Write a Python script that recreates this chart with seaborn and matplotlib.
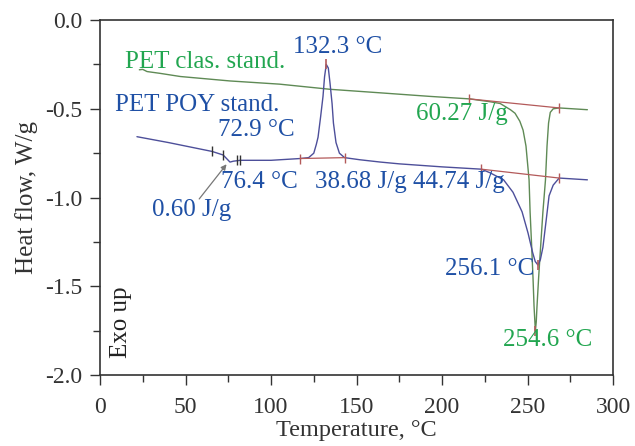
import numpy as np
import pandas as pd
import matplotlib
matplotlib.use("Agg")
import matplotlib.pyplot as plt
import seaborn as sns

# ---- data ----
green_T = [23, 25, 27.5, 35, 47, 76, 105, 134.5, 164, 193, 216, 228, 234, 240,
           242.7, 245.5, 247.4, 249.1, 250.9, 251.5, 252.4, 253.2, 253.8, 254.3, 254.6,
           255.1, 255.5, 256.5, 257.7, 259, 260.5, 261.4, 262.3, 263.3, 265, 268.5, 285]
green_Q = [-0.28, -0.278, -0.29, -0.30, -0.318, -0.343, -0.361, -0.39, -0.41, -0.43, -0.444,
           -0.46, -0.47, -0.505, -0.525, -0.57, -0.62, -0.71, -0.90, -1.08, -1.27, -1.45,
           -1.61, -1.70, -1.75, -1.70, -1.62, -1.45, -1.27, -1.08, -0.90, -0.71, -0.58,
           -0.52, -0.50, -0.495, -0.505]

blue_T = [21.6, 40, 65.5, 72, 74, 76, 78, 82, 100, 117, 122, 125, 126.5, 127.5, 129, 130.4,
          131.3, 132.3, 133.5, 134.5, 135.7, 136.5, 138, 140, 143, 152, 164, 175, 200, 223,
          228, 236, 241.5, 246.8, 250.3, 253, 254.5, 256.1, 257.5, 259, 261, 262.6, 265,
          268.5, 285]
blue_Q = [-0.657, -0.69, -0.74, -0.76, -0.78, -0.80, -0.795, -0.79, -0.79, -0.78, -0.775,
          -0.75, -0.70, -0.66, -0.545, -0.43, -0.32, -0.25, -0.27, -0.355, -0.47, -0.58,
          -0.69, -0.75, -0.775, -0.787, -0.80, -0.81, -0.827, -0.84, -0.86, -0.90, -0.97,
          -1.08, -1.20, -1.31, -1.36, -1.38, -1.35, -1.28, -1.12, -0.99, -0.93, -0.89, -0.90]

base_green_T = [216, 268.5]
base_green_Q = [-0.444, -0.495]
base_blue_T = [223, 268.5]
base_blue_Q = [-0.84, -0.89]
base_cold_T = [117, 143]
base_cold_Q = [-0.78, -0.775]

peak_T = [132.3, 256.1, 254.6]
peak_Q = [-0.25, -1.38, -1.75]

tg_T = [65.5, 72, 80, 82]
tg_Q = [-0.74, -0.76, -0.79, -0.79]

x_ticks = [0, 50, 100, 150, 200, 250, 300]
y_ticks = [0.0, -0.5, -1.0, -1.5, -2.0]

GREEN_TXT = "#22a650"
GREEN_LINE = "#5f8a55"
BLUE_TXT = "#1f50a5"
BLUE_LINE = "#4d4f9a"
RED = "#b35a5a"

sns.set_theme(style="ticks")
plt.rcParams["font.family"] = ["Liberation Serif", "DejaVu Serif"]

fig = plt.figure(figsize=(6.35, 4.46), dpi=100)
ax = fig.add_axes([0.1575, 0.159, 0.8079, 0.796])

dfg = pd.DataFrame({"T": green_T, "Q": green_Q})
dfb = pd.DataFrame({"T": blue_T, "Q": blue_Q})
sns.lineplot(data=dfg, x="T", y="Q", sort=False, color=GREEN_LINE, lw=1.0, ax=ax)
sns.lineplot(data=dfb, x="T", y="Q", sort=False, color=BLUE_LINE, lw=1.0, ax=ax)

for bt, bq in [(base_green_T, base_green_Q), (base_blue_T, base_blue_Q), (base_cold_T, base_cold_Q)]:
    sns.lineplot(x=bt, y=bq, sort=False, color=RED, lw=0.9, ax=ax)
    ax.plot(bt, bq, ls="none", marker="|", ms=7, mew=1.0, color=RED)
ax.plot(peak_T, peak_Q, ls="none", marker="|", ms=7, mew=1.2, color=RED)
ax.plot(tg_T, tg_Q, ls="none", marker="|", ms=7, mew=1.0, color="#333333")

fs = 18
ax.text(14.6, -0.236, "PET clas. stand.", color=GREEN_TXT, fontsize=fs, va="center", ha="left")
ax.text(139, -0.15, "132.3 °C", color=BLUE_TXT, fontsize=fs, va="center", ha="center")
ax.text(8.8, -0.48, "PET POY stand.", color=BLUE_TXT, fontsize=fs, va="center", ha="left")
ax.text(69, -0.62, "72.9 °C", color=BLUE_TXT, fontsize=fs, va="center", ha="left")
ax.text(70.8, -0.91, "76.4 °C", color=BLUE_TXT, fontsize=fs, va="center", ha="left")
ax.text(30.4, -1.07, "0.60 J/g", color=BLUE_TXT, fontsize=fs, va="center", ha="left")
ax.text(126, -0.915, "38.68 J/g", color=BLUE_TXT, fontsize=fs, va="center", ha="left")
ax.text(183, -0.915, "44.74 J/g", color=BLUE_TXT, fontsize=fs, va="center", ha="left")
ax.text(185, -0.53, "60.27 J/g", color=GREEN_TXT, fontsize=fs, va="center", ha="left")
ax.text(202, -1.40, "256.1 °C", color=BLUE_TXT, fontsize=fs, va="center", ha="left")
ax.text(235.7, -1.80, "254.6 °C", color=GREEN_TXT, fontsize=fs, va="center", ha="left")
ax.text(12, -1.70, "Exo up", color="#222222", fontsize=fs, va="center", ha="center", rotation=90)

ax.annotate("", xy=(75, -0.80), xytext=(57, -1.02),
            arrowprops=dict(arrowstyle="-|>", color="#777777", lw=0.9, mutation_scale=8))

ax.set_xlim(0, 300)
ax.set_ylim(-2.0, 0.0)
ax.set_xticks(x_ticks)
ax.set_yticks(y_ticks)
ax.set_xticklabels([str(v) for v in x_ticks])
ax.set_yticklabels([f"{v:.1f}" for v in y_ticks])
ax.set_xticks(np.arange(25, 300, 50), minor=True)
ax.set_yticks(np.arange(-1.75, 0, 0.5), minor=True)
ax.tick_params(axis="both", which="major", direction="out", length=7, width=1.0,
               colors="#333333", labelsize=17, labelcolor="#333333")
ax.tick_params(axis="x", which="major", pad=9)
ax.tick_params(axis="y", which="major", pad=6)
ax.tick_params(axis="both", which="minor", direction="out", length=5, width=1.0, colors="#333333")
for s in ax.spines.values():
    s.set_visible(True)
    s.set_color("#333333")
    s.set_linewidth(1.2)

ax.set_xlabel("Temperature, °C", fontsize=17.5, color="#333333", labelpad=1)
ax.set_ylabel("Heat flow, W/g", fontsize=18, color="#333333", labelpad=5)

fig.savefig("out.png", dpi=100)
